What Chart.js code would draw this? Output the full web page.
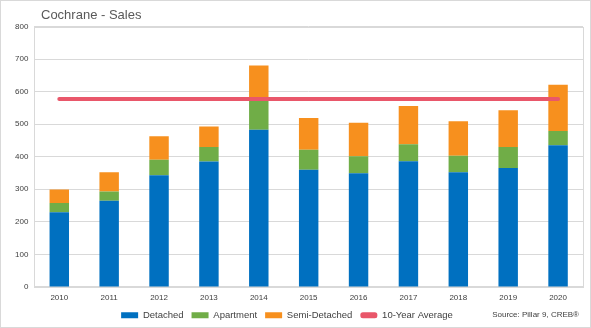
<!DOCTYPE html>
<html>
<head>
<meta charset="utf-8">
<script src="https://cdn.jsdelivr.net/npm/chart.js@4"></script>
<style>
  html, body { margin: 0; padding: 0; background: #fff; }
  #wrap { position: relative; width: 591px; height: 328px; box-sizing: border-box; border: 1px solid #d9d9d9; }
  #title { position: absolute; left: 40px; top: 6px; font: 13px "Liberation Sans", Arial, sans-serif; color: #595959; }
  #source { position: absolute; right: 11px; top: 309px; font: 8px "Liberation Sans", Arial, sans-serif; color: #404040; }
</style>
</head>
<body>
<div id="wrap">
  <canvas id="salesChart"></canvas>
  <div id="title">Cochrane - Sales</div>
  <div id="source">Source: Pillar 9, CREB®</div>
</div>
<script>
// yearly sales, split by property type
const years = ['2010','2011','2012','2013','2014','2015','2016','2017','2018','2019','2020'];
const detached = [229, 265, 343, 385, 483, 360, 349, 386, 352, 365, 435];
const apartment = [29, 28, 48, 45, 88, 61, 52, 52, 51, 65, 44];
const semiDetached = [41, 59, 72, 63, 109, 98, 103, 118, 106, 113, 142];
const tenYearAvg = [577, 577, 577, 577, 577, 577, 577, 577, 577, 577, 577];

const fontFamily = '"Liberation Sans", Arial, sans-serif';
const ch = document.getElementById('salesChart');

// box around the plot area (left/right edges)
const plotBorder = {
    id: 'plotBorder',
    beforeDatasetsDraw(chart) {
        const a = chart.chartArea;
        const c = chart.ctx;
        c.save();
        c.strokeStyle = '#d9d9d9';
        c.lineWidth = 1;
        c.strokeRect(Math.round(a.left) + 0.5, Math.round(a.top) + 0.5, Math.round(a.right - a.left), Math.round(a.bottom - a.top));
        c.restore();
    }
};

// nudge the legend left (room for the source note) and up closer to the axis
const legendShift = {
    id: 'legendShift',
    afterLayout(chart) {
        chart.legend.left -= 9;
        chart.legend.right -= 9;
        chart.legend.top -= 6;
        chart.legend.bottom -= 6;
    }
};

// legend entries: the average line gets a thin pill instead of a box
function legendLabels(chart) {
    const items = Chart.defaults.plugins.legend.labels.generateLabels(chart);
    items.forEach(function (item) {
        item.lineWidth = 0;
        if (item.datasetIndex === 3) {
            item.borderRadius = 2.5;
        }
    });
    return items;
}

salesChart = new Chart(ch, {
    type: 'bar',
    data: {
        labels: years,
        datasets: [{
            label: 'Detached',
            data: detached,
            backgroundColor: '#0070C0',
            stack: 'sales',
            order: 1
        }, {
            label: 'Apartment',
            data: apartment,
            backgroundColor: '#70AD47',
            stack: 'sales',
            order: 1
        }, {
            label: 'Semi-Detached',
            data: semiDetached,
            backgroundColor: '#F7901E',
            stack: 'sales',
            order: 1
        }, {
            type: 'line',
            label: '10-Year Average',
            data: tenYearAvg,
            borderColor: '#E9576A',
            backgroundColor: '#E9576A',
            borderWidth: 4,
            borderCapStyle: 'round',
            pointRadius: 0,
            stack: 'avg',
            order: 0
        }]
    },
    options: {
        responsive: true,
        maintainAspectRatio: false,
        animation: false,
        categoryPercentage: 1,
        barPercentage: 0.39,
        layout: { padding: { top: 25.5, left: 8, right: 7, bottom: -9 } },
        plugins: {
            legend: {
                position: 'bottom',
                labels: {
                    boxWidth: 17,
                    boxHeight: 6,
                    padding: 8,
                    color: '#404040',
                    font: { family: fontFamily, size: 9.5 },
                    sort: (a, b) => a.datasetIndex - b.datasetIndex,
                    generateLabels: legendLabels
                }
            },
            tooltip: { enabled: false }
        },
        scales: {
            x: {
                stacked: true,
                grid: { display: false, drawTicks: false },
                border: { color: '#d9d9d9' },
                ticks: { color: '#404040', font: { family: fontFamily, size: 8 }, padding: 6 }
            },
            y: {
                stacked: true,
                min: 0,
                max: 800,
                grid: { color: '#d9d9d9', drawTicks: false },
                border: { display: false },
                ticks: { stepSize: 100, color: '#404040', font: { family: fontFamily, size: 8 }, padding: 6 }
            }
        }
    },
    plugins: [plotBorder, legendShift]
});
</script>
</body>
</html>
